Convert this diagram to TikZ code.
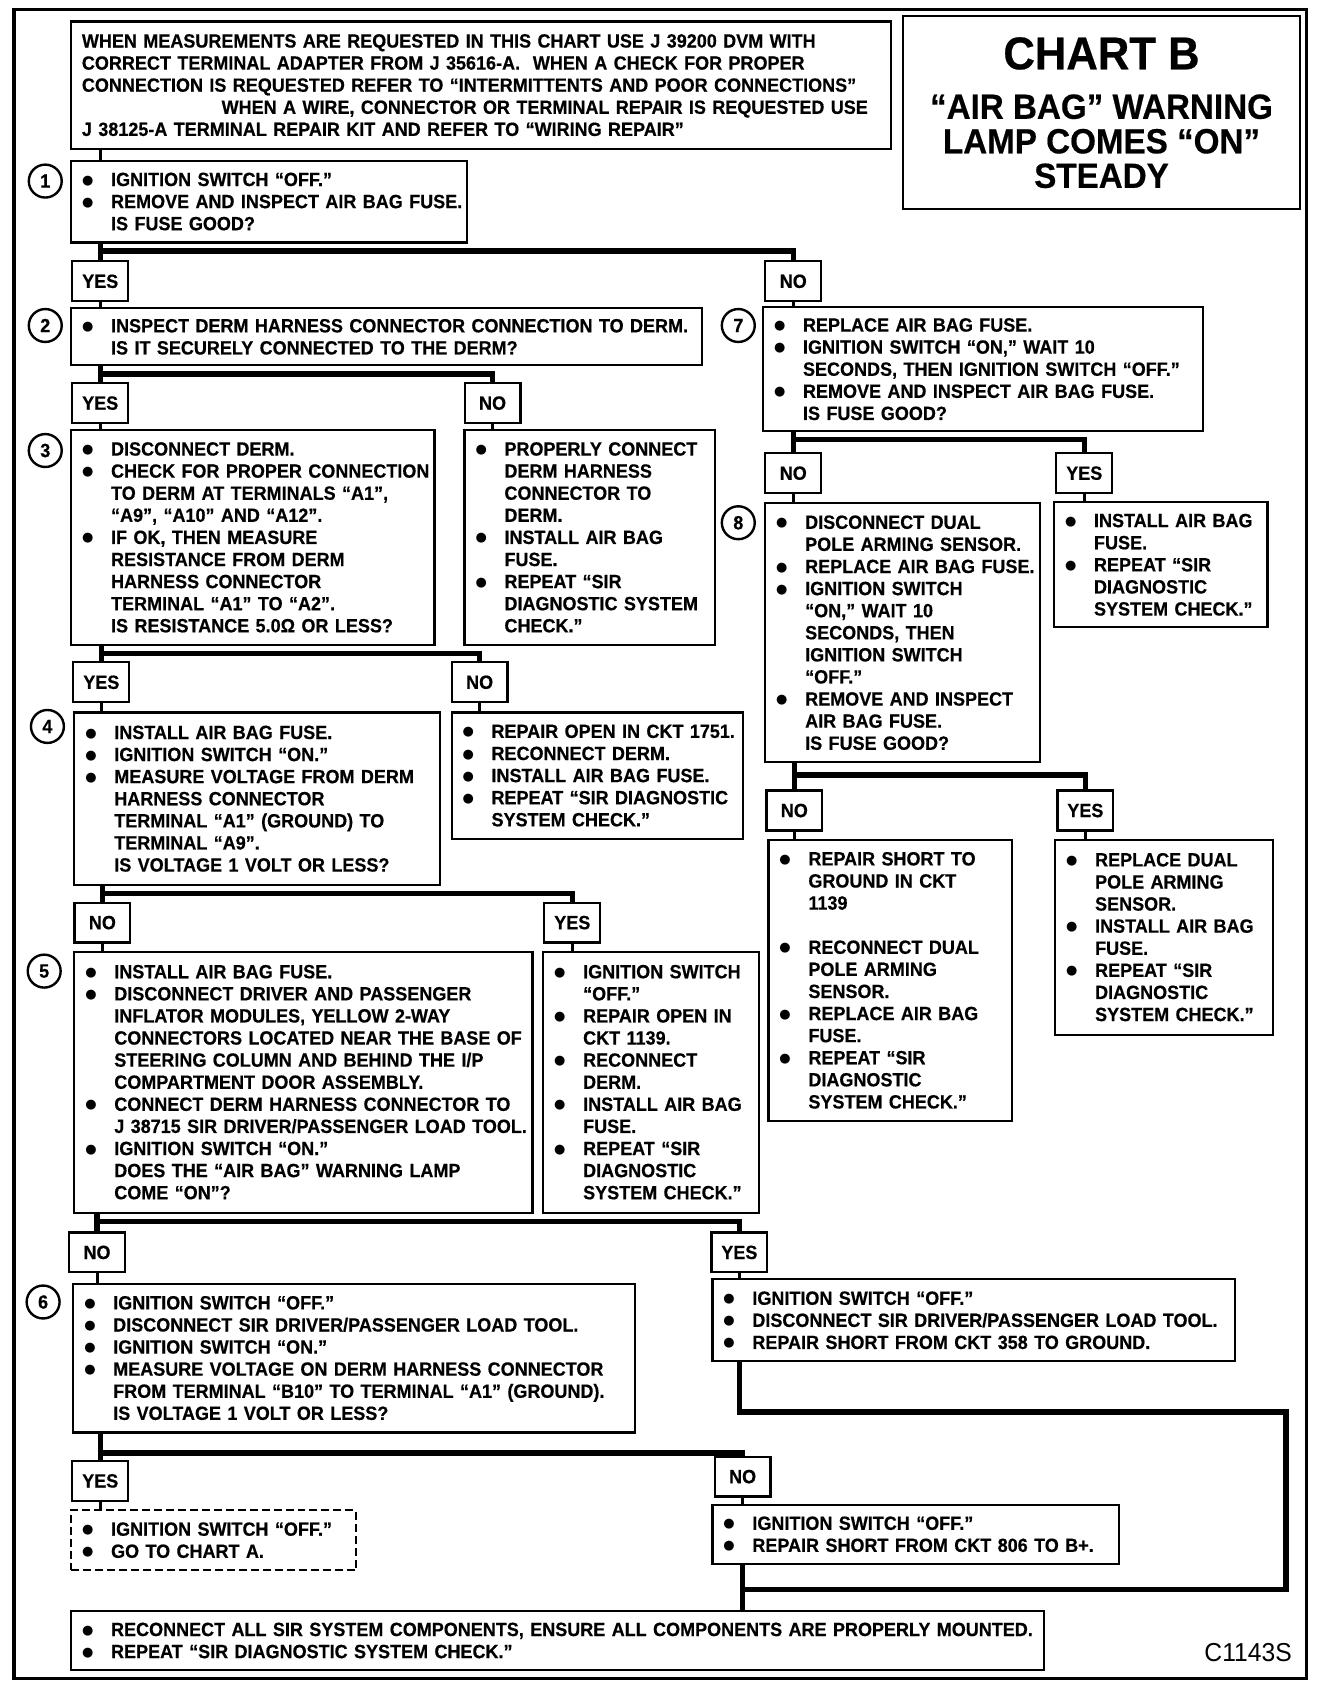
\documentclass[tikz,border=0pt]{standalone}
\usepackage{fontspec}
\setmainfont{Liberation Sans}[FakeStretch=0.94, BoldFeatures={FakeBold=0.5}]
\newfontfamily\headfont{Liberation Sans}[FakeStretch=0.95, BoldFeatures={FakeBold=0.5}]
\newfontfamily\dotfont{DejaVu Sans}
\usepackage{tikz}
\usetikzlibrary{calc}

\newcommand\chartfont{\bfseries\fontsize{9.6}{11.07}\selectfont}
\newcommand\bul{\hspace*{4.5pt}\makebox[14.5pt][l]{\raisebox{1pt}{\dotfont\fontsize{6.5}{7}\selectfont ●}}}
\newcommand\indt{\hspace*{19pt}}
\hyphenpenalty=10000
\exhyphenpenalty=10000

\begin{document}
\begin{tikzpicture}[x=0.54pt, y=-0.54pt,
  box/.style={draw, line width=1.1pt, anchor=north west, inner xsep=1pt, inner ysep=0pt, align=left, font=\chartfont},
  ans/.style={draw, line width=1.1pt, minimum width=28pt, minimum height=20pt, inner sep=0pt, font=\chartfont},
  num/.style={circle, draw, line width=1.2pt, minimum size=16.5pt, inner sep=0pt, font=\chartfont},
  flow/.style={line width=2.7pt},
  link/.style={line width=1.5pt}]
\useasboundingbox (0,0) rectangle (1232,1568);

% Frame
\draw[line width=1.6pt] (13,9) rectangle (1212,1557);

% Header
\node[box, inner xsep=5.4pt, text width=400pt, minimum height=63.7pt] (nt) at (65,19)
  {WHEN MEASUREMENTS ARE REQUESTED IN THIS CHART USE J 39200 DVM WITH\\
   CORRECT TERMINAL ADAPTER FROM J 35616-A.\ \ WHEN A CHECK FOR PROPER\\
   CONNECTION IS REQUESTED REFER TO “INTERMITTENTS AND POOR CONNECTIONS”\\
   \hspace*{70pt}WHEN A WIRE, CONNECTOR OR TERMINAL REPAIR IS REQUESTED USE\\
   J 38125-A TERMINAL REPAIR KIT AND REFER TO “WIRING REPAIR”};
\node[box, align=center, minimum width=198.7pt, minimum height=96.7pt,
  font=\headfont\bfseries\fontsize{17.5}{17.3}\selectfont] (tt) at (837,14)
  {{\fontsize{23}{17.3}\selectfont CHART B}\\[7.5pt]“AIR BAG” WARNING\\LAMP COMES “ON”\\STEADY};

% Step numbers
\node[num] (c1) at (42,168) {1};
\node[num] (c2) at (42,302) {2};
\node[num] (c3) at (42,418) {3};
\node[num] (c4) at (44,674) {4};
\node[num] (c5) at (41,901) {5};
\node[num] (c6) at (40,1208) {6};
\node[num] (c7) at (685,302) {7};
\node[num] (c8) at (685,485) {8};

% Left column
\node[box, text width=196.2pt, minimum height=41pt] (s1) at (65,148)
  {\bul IGNITION SWITCH “OFF.”\\
   \bul REMOVE AND INSPECT AIR BAG FUSE.\\
   \indt IS FUSE GOOD?};
\node[box, text width=313.9pt, minimum height=28.6pt] (s2) at (65,285)
  {\bul INSPECT DERM HARNESS CONNECTOR CONNECTION TO DERM.\\
   \indt IS IT SECURELY CONNECTED TO THE DERM?};
\node[box, text width=180pt, minimum height=107.5pt] (s3) at (65,398)
  {\bul DISCONNECT DERM.\\
   \bul CHECK FOR PROPER CONNECTION\\
   \indt TO DERM AT TERMINALS “A1”,\\
   \indt “A9”, “A10” AND “A12”.\\
   \bul IF OK, THEN MEASURE\\
   \indt RESISTANCE FROM DERM\\
   \indt HARNESS CONNECTOR\\
   \indt TERMINAL “A1” TO “A2”.\\
   \indt IS RESISTANCE 5.0Ω OR LESS?};
\node[box, text width=123.3pt, minimum height=107.5pt] (s3n) at (430,398)
  {\bul PROPERLY CONNECT\\
   \indt DERM HARNESS\\
   \indt CONNECTOR TO\\
   \indt DERM.\\
   \bul INSTALL AIR BAG\\
   \indt FUSE.\\
   \bul REPEAT “SIR\\
   \indt DIAGNOSTIC SYSTEM\\
   \indt CHECK.”};
\node[box, text width=181.1pt, minimum height=86.4pt] (s4) at (68,660)
  {\bul INSTALL AIR BAG FUSE.\\
   \bul IGNITION SWITCH “ON.”\\
   \bul MEASURE VOLTAGE FROM DERM\\
   \indt HARNESS CONNECTOR\\
   \indt TERMINAL “A1” (GROUND) TO\\
   \indt TERMINAL “A9”.\\
   \indt IS VOLTAGE 1 VOLT OR LESS?};
\node[box, text width=143.8pt, minimum height=63.2pt] (s4n) at (418,660)
  {\bul REPAIR OPEN IN CKT 1751.\\
   \bul RECONNECT DERM.\\
   \bul INSTALL AIR BAG FUSE.\\
   \bul REPEAT “SIR DIAGNOSTIC\\
   \indt SYSTEM CHECK.”};
\node[box, text width=227.5pt, minimum height=130.7pt] (s5) at (68,882)
  {\bul INSTALL AIR BAG FUSE.\\
   \bul DISCONNECT DRIVER AND PASSENGER\\
   \indt INFLATOR MODULES, YELLOW 2-WAY\\
   \indt CONNECTORS LOCATED NEAR THE BASE OF\\
   \indt STEERING COLUMN AND BEHIND THE I/P\\
   \indt COMPARTMENT DOOR ASSEMBLY.\\
   \bul CONNECT DERM HARNESS CONNECTOR TO\\
   \indt J 38715 SIR DRIVER/PASSENGER LOAD TOOL.\\
   \bul IGNITION SWITCH “ON.”\\
   \indt DOES THE “AIR BAG” WARNING LAMP\\
   \indt COME “ON”?};
\node[box, text width=106pt, minimum height=130.7pt] (s5y) at (503,882)
  {\bul IGNITION SWITCH\\
   \indt “OFF.”\\
   \bul REPAIR OPEN IN\\
   \indt CKT 1139.\\
   \bul RECONNECT\\
   \indt DERM.\\
   \bul INSTALL AIR BAG\\
   \indt FUSE.\\
   \bul REPEAT “SIR\\
   \indt DIAGNOSTIC\\
   \indt SYSTEM CHECK.”};
\node[box, text width=279.3pt, minimum height=74.5pt] (s6) at (67,1190)
  {\bul IGNITION SWITCH “OFF.”\\
   \bul DISCONNECT SIR DRIVER/PASSENGER LOAD TOOL.\\
   \bul IGNITION SWITCH “ON.”\\
   \bul MEASURE VOLTAGE ON DERM HARNESS CONNECTOR\\
   \indt FROM TERMINAL “B10” TO TERMINAL “A1” (GROUND).\\
   \indt IS VOLTAGE 1 VOLT OR LESS?};
\node[box, text width=259.9pt, minimum height=41pt] (s6y) at (660,1186)
  {\bul IGNITION SWITCH “OFF.”\\
   \bul DISCONNECT SIR DRIVER/PASSENGER LOAD TOOL.\\
   \bul REPAIR SHORT FROM CKT 358 TO GROUND.};
\node[box, dashed, dash pattern=on 4pt off 2pt, text width=140.6pt, minimum height=30.2pt] (sdash) at (65,1400)
  {\bul IGNITION SWITCH “OFF.”\\
   \bul GO TO CHART A.};
\node[box, text width=201.6pt, minimum height=29.7pt] (s6n) at (660,1395)
  {\bul IGNITION SWITCH “OFF.”\\
   \bul REPAIR SHORT FROM CKT 806 TO B+.};
\node[box, text width=485.6pt, minimum height=29.2pt] (fin) at (65,1494)
  {\bul RECONNECT ALL SIR SYSTEM COMPONENTS, ENSURE ALL COMPONENTS ARE PROPERLY MOUNTED.\\
   \bul REPEAT “SIR DIAGNOSTIC SYSTEM CHECK.”};

% Right column
\node[box, text width=218.3pt, minimum height=62.1pt] (s7) at (707,284)
  {\bul REPLACE AIR BAG FUSE.\\
   \bul IGNITION SWITCH “ON,” WAIT 10\\
   \indt SECONDS, THEN IGNITION SWITCH “OFF.”\\
   \bul REMOVE AND INSPECT AIR BAG FUSE.\\
   \indt IS FUSE GOOD?};
\node[box, text width=104.9pt, minimum height=62.6pt] (s7y) at (977,465)
  {\bul INSTALL AIR BAG\\
   \indt FUSE.\\
   \bul REPEAT “SIR\\
   \indt DIAGNOSTIC\\
   \indt SYSTEM CHECK.”};
\node[box, text width=135.7pt, minimum height=129.6pt] (s8) at (709,466)
  {\bul DISCONNECT DUAL\\
   \indt POLE ARMING SENSOR.\\
   \bul REPLACE AIR BAG FUSE.\\
   \bul IGNITION SWITCH\\
   \indt “ON,” WAIT 10\\
   \indt SECONDS, THEN\\
   \indt IGNITION SWITCH\\
   \indt “OFF.”\\
   \bul REMOVE AND INSPECT\\
   \indt AIR BAG FUSE.\\
   \indt IS FUSE GOOD?};
\node[box, text width=120pt, minimum height=141pt] (s8n) at (712,778)
  {\bul REPAIR SHORT TO\\
   \indt GROUND IN CKT\\
   \indt 1139\\[11.07pt]
   \bul RECONNECT DUAL\\
   \indt POLE ARMING\\
   \indt SENSOR.\\
   \bul REPLACE AIR BAG\\
   \indt FUSE.\\
   \bul REPEAT “SIR\\
   \indt DIAGNOSTIC\\
   \indt SYSTEM CHECK.”};
\node[box, text width=107.1pt, minimum height=97.7pt] (s8y) at (978,778)
  {\bul REPLACE DUAL\\
   \indt POLE ARMING\\
   \indt SENSOR.\\
   \bul INSTALL AIR BAG\\
   \indt FUSE.\\
   \bul REPEAT “SIR\\
   \indt DIAGNOSTIC\\
   \indt SYSTEM CHECK.”};

% Answers
\node[ans] (a1y) at (93,261) {YES};
\node[ans] (a1n) at (736,261) {NO};
\node[ans] (a2y) at (93,374) {YES};
\node[ans] (a2n) at (457,374) {NO};
\node[ans] (a3y) at (94,633) {YES};
\node[ans] (a3n) at (445,633) {NO};
\node[ans] (a4n) at (95,856) {NO};
\node[ans] (a4y) at (531,856) {YES};
\node[ans] (a5n) at (90,1162) {NO};
\node[ans] (a5y) at (686,1162) {YES};
\node[ans] (a6y) at (93,1374) {YES};
\node[ans] (a6n) at (689,1370) {NO};
\node[ans] (a7n) at (736,439) {NO};
\node[ans] (a7y) at (1006,439) {YES};
\node[ans] (a8n) at (737,752) {NO};
\node[ans] (a8y) at (1007,752) {YES};

% Branches
\foreach \p/\l/\r/\o in {s1/a1y/a1n/7, s2/a2y/a2n/7, s3/a3y/a3n/7, s4/a4n/a4y/7,
    s5/a5n/a5y/7, s6/a6y/a6n/18, s7/a7n/a7y/7, s8/a8n/a8y/11}{
  \draw[flow] (\p.south -| \l) -- (\l.north);
  \draw[flow] ($(\p.south -| \l)+(0,\o)$) -| (\r.north);
}

% Answer to next step
\foreach \l/\b in {a1y/s2, a1n/s7, a2y/s3, a2n/s3n, a3y/s4, a3n/s4n, a4n/s5, a4y/s5y,
    a5n/s6, a5y/s6y, a6y/sdash, a6n/s6n, a7n/s8, a7y/s7y, a8n/s8n, a8y/s8y}
  \draw[link] (\l.south) -- (\l.south |- \b.north);
\draw[link] (nt.south -| a1y) -- (s1.north -| a1y);

% Return to last step
\coordinate (ret) at (1193,1310);
\coordinate (mrg) at (689,1475);
\draw[flow] (s6y.south -| a5y) |- (ret) |- (mrg);
\draw[flow] (s6n.south -| a6n) -- (fin.north -| a6n);

\node[font=\headfont\fontsize{13}{15}\selectfont] (code) at (1158,1533) {C1143S};
\end{tikzpicture}
\end{document}
